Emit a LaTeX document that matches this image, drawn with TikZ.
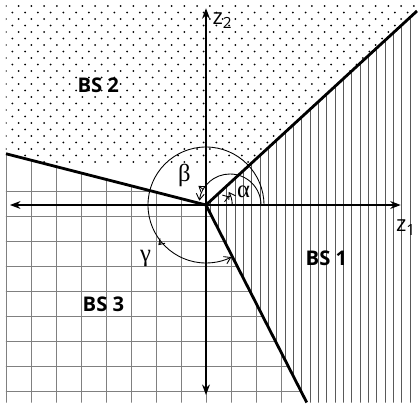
\documentclass[tikz,border=0pt]{standalone}
\usepackage{fontspec}
\setmainfont{Open Sans}
\newfontfamily\greekfont{Liberation Serif}
\usetikzlibrary{arrows.meta}

\begin{document}
\begin{tikzpicture}[
    x=0.5cm, y=0.5cm,
    axis/.style={line width=0.7pt, -{Stealth[length=6pt, width=4.5pt]}},
    border/.style={line width=1.6pt},
    gridline/.style={black!50, line width=0.5pt},
    hatchline/.style={black!65, line width=0.5pt},
    angarc/.style={line width=0.5pt, -{Straight Barb[length=3.5pt, width=4.5pt]}},
    pointer/.style={line width=0.5pt, -{Straight Barb[length=3pt, width=4pt]}},
    region/.style={font=\fontsize{11.5}{13}\selectfont\bfseries},
    greek/.style={font=\fontsize{14}{16}\selectfont\greekfont},
    axlabel/.style={font=\fontsize{12.5}{14}\selectfont}
]
    \useasboundingbox (-8.24,-8.12) rectangle (8.48,8.2);

    % Corners of the regions
    \coordinate (O) at (0,0);
    \coordinate (e12) at (8.44,7.76);
    \coordinate (e23) at (-8,2.05);
    \coordinate (e13) at (4.03,-7.9);

    % BS 3: grid
    \begin{scope}
        \clip (O) -- (e23) -- (-8,-7.9) -- (e13) -- cycle;
        \foreach \x in {-8,...,4} \draw[gridline] (\x,-8) -- (\x,3);
        \foreach \y in {0,...,10} \draw[gridline] (-8.5,0.53-\y) -- (4.5,0.53-\y);
    \end{scope}

    % BS 1: vertical hatching
    \begin{scope}
        \clip (O) -- (e12) -- (8.44,-7.9) -- (e13) -- cycle;
        \foreach \k in {0,...,25} \draw[hatchline] ({1/6+\k/3},-8) -- ({1/6+\k/3},8);
    \end{scope}

    % BS 2: dots
    \begin{scope}
        \clip (O) -- (e12) -- (8.44,8) -- (-8,8) -- (e23) -- cycle;
        \foreach \j in {0,...,24} \foreach \i in {0,...,32}
            \fill ({-8+0.255*mod(\j,2)+0.51*\i},{7.96-0.26*\j}) circle (0.04);
    \end{scope}

    % Boundaries
    \draw[border] (O) -- (e12);
    \draw[border] (O) -- (e23);
    \draw[border] (O) -- (e13);

    % Axes
    \coordinate (xl) at (-7.84,0);
    \coordinate (xr) at (7.79,0);
    \coordinate (yb) at (0,-7.6);
    \coordinate (yt) at (0,7.87);
    \draw[axis] (O) -- (xr);
    \draw[axis] (O) -- (xl);
    \draw[axis] (O) -- (yt);
    \draw[axis] (O) -- (yb);
    \node[axlabel] (z1) at (8.0,-0.9) {z\textsubscript{1}};
    \node[axlabel] (z2) at (0.66,7.36) {z\textsubscript{2}};

    % Regions
    \node[region] (bs1) at (4.82,-2.12) {BS 1};
    \node[region] (bs2) at (-4.31,4.77) {BS 2};
    \node[region] (bs3) at (-4.1,-3.96) {BS 3};

    % Angles
    \draw[angarc] (1.05,0) arc[start angle=0, end angle=30, radius=1.05];
    \draw[angarc] (2.2,0) arc[start angle=0, end angle=172, radius=1.24];
    \draw[angarc] (2.32,0) arc[start angle=0, end angle=296, radius=2.32];
    \node[greek] (alpha) at (1.5,0.53) {α};
    \node[greek] (beta) at (-0.86,1.18) {β};
    \node[greek] (gamma) at (-2.42,-2.14) {γ};
    \coordinate (atick) at (20:1.05);
    \coordinate (btick) at (-0.11,0.62);
    \coordinate (gtick) at (219.7:2.32);
    \draw[pointer, shorten >=1pt] (atick) -- (alpha);
    \draw[pointer, shorten >=1pt] (btick) -- (beta);
    \draw[pointer, shorten >=1pt] (gtick) -- (gamma);
\end{tikzpicture}
\end{document}
